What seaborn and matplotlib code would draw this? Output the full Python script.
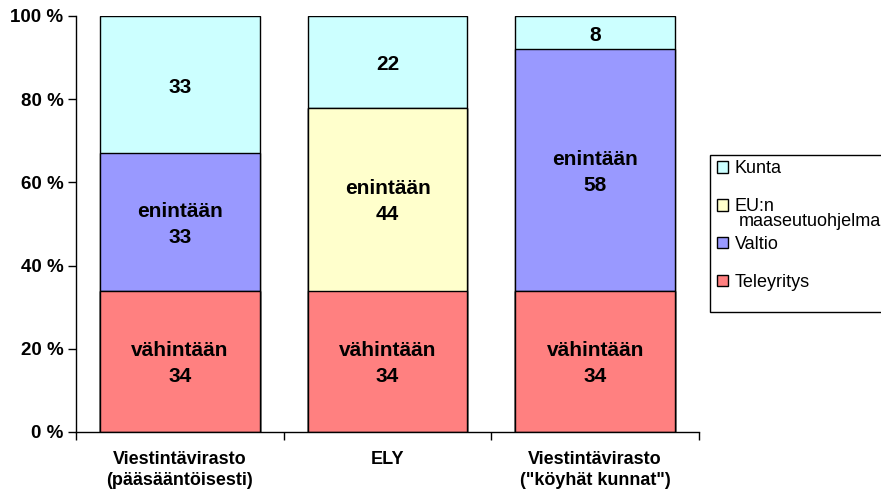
import numpy as np
import pandas as pd
import matplotlib
matplotlib.use("Agg")
import matplotlib.pyplot as plt
import matplotlib.transforms as mtransforms
import seaborn as sns
from matplotlib.patches import Patch, Rectangle

# Data
categories = ['Viestintävirasto\n(pääsääntöisesti)', 'ELY', 'Viestintävirasto\n("köyhät kunnat")']
teleyritys = [34, 34, 34]
eu = [0, 44, 0]
valtio = [33, 0, 58]
kunta = [33, 22, 8]

tele_labels = ['vähintään\n34', 'vähintään\n34', 'vähintään\n34']
mid_labels = ['enintään\n33', 'enintään\n44', 'enintään\n58']
kunta_labels = ['33', '22', '8']

colors = {'Kunta': '#CCFFFF', 'EU:n': '#FFFFCC',
          'Valtio': '#9999FF', 'Teleyritys': '#FF8080'}

sns.set_style("white")
plt.rcParams['font.family'] = ['Liberation Sans', 'DejaVu Sans']
plt.rcParams['text.color'] = 'black'
plt.rcParams['xtick.color'] = 'black'
plt.rcParams['ytick.color'] = 'black'

df = pd.DataFrame({'cat': categories, 'tele': teleyritys, 'eu': eu,
                   'valtio': valtio, 'kunta': kunta})
df['c_eu'] = df['tele'] + df['eu']
df['c_valtio'] = df['c_eu'] + df['valtio']
df['c_kunta'] = df['c_valtio'] + df['kunta']

fig = plt.figure(figsize=(8.81, 4.96), dpi=100)
ax = fig.add_axes([76 / 881, 1 - 432 / 496, (699 - 76) / 881, (432 - 16) / 496])

# stacked bars drawn as overlapping cumulative totals
layers = [('c_kunta', 'Kunta'), ('c_valtio', 'Valtio'),
          ('c_eu', 'EU:n'), ('tele', 'Teleyritys')]
for col, name in layers:
    sns.barplot(data=df, x='cat', y=col, color=colors[name], width=0.77,
                edgecolor='black', linewidth=1, saturation=1, ax=ax)

# segment labels (nudged a little down, like the original)
shift = ax.transData + mtransforms.ScaledTranslation(0, -2.5 / 100, fig.dpi_scale_trans)
lab_kw = dict(ha='center', va='center', fontsize=15, fontweight='bold',
              linespacing=1.45, color='black', transform=shift)
for i in range(len(categories)):
    ax.text(i, teleyritys[i] / 2, tele_labels[i], **lab_kw)
    mid = eu[i] + valtio[i]
    ax.text(i, teleyritys[i] + mid / 2, mid_labels[i], **lab_kw)
    ax.text(i, df['c_valtio'][i] + kunta[i] / 2, kunta_labels[i], **lab_kw)

ax.set_ylim(0, 100)
ax.set_xlim(-0.5, 2.5)
ax.set_yticks(range(0, 101, 20))
ax.set_yticklabels([f'{v} %' for v in range(0, 101, 20)], fontsize=13.5,
                   fontweight='bold')
ax.set_xticks([-0.5, 0.5, 1.5, 2.5])
ax.set_xticklabels([])
ax.set_xticks([0, 1, 2], minor=True)
ax.set_xticklabels(categories, minor=True, fontsize=13, fontweight='bold',
                   linespacing=1.3)
ax.tick_params(axis='x', which='minor', length=0, pad=14)
ax.tick_params(axis='y', which='major', pad=3)
ax.tick_params(axis='both', which='major', length=6, width=1, color='black',
               direction='out', bottom=True, left=True)
ax.set_xlabel('')
ax.set_ylabel('')
for s in ['top', 'right']:
    ax.spines[s].set_visible(False)
for s in ['left', 'bottom']:
    ax.spines[s].set_color('black')
    ax.spines[s].set_linewidth(1)

# legend box (runs past the right edge, as in the original)
fig.patches.append(Rectangle((710 / 881, 1 - 312 / 496), 190 / 881, 157 / 496,
                             transform=fig.transFigure, facecolor='white',
                             edgecolor='black', linewidth=1, zorder=0))

handles = [Patch(facecolor=colors[n], edgecolor='black', label=n)
           for n in ['Kunta', 'EU:n', 'Valtio', 'Teleyritys']]
leg = fig.legend(handles=handles, loc='upper left', bbox_to_anchor=(712 / 881, 1 - 155 / 496),
                 frameon=False, fontsize=13,
                 handlelength=0.6, handleheight=0.6, handletextpad=0.35,
                 labelspacing=1.15, borderpad=0.3, borderaxespad=0)
# second line of the EU label spills below its row, as in the original
fig.text(739 / 881, 1 - 222 / 496, 'maaseutuohjelma', fontsize=13, va='center',
         ha='left', zorder=10)

fig.savefig('out.png', dpi=100)
